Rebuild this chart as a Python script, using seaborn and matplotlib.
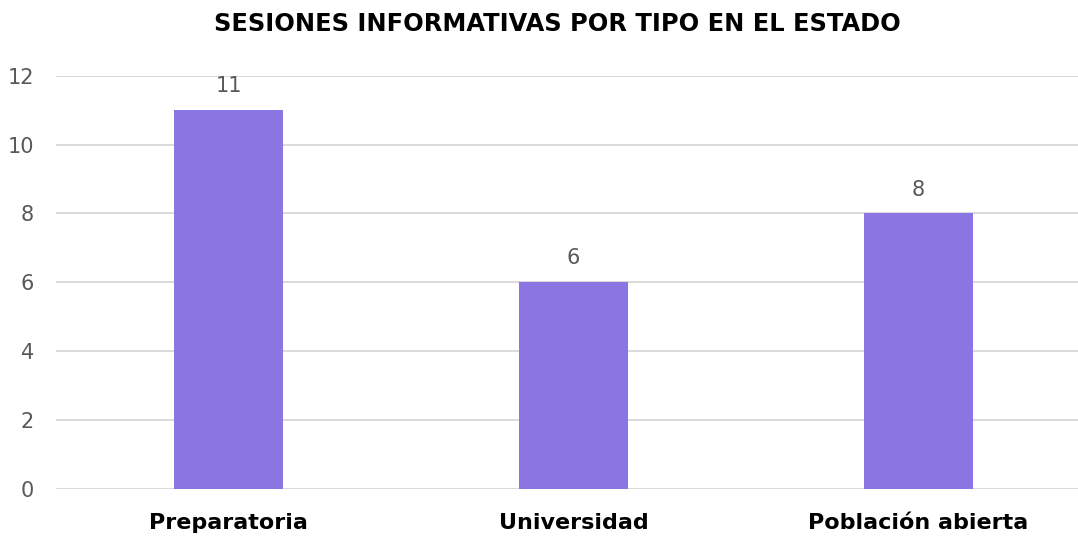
import matplotlib
matplotlib.use("Agg")
import matplotlib.pyplot as plt
import seaborn as sns
import pandas as pd

categories = ["Preparatoria", "Universidad", "Población abierta"]
values = [11, 6, 8]
y_ticks = [0, 2, 4, 6, 8, 10, 12]
title = "SESIONES INFORMATIVAS POR TIPO EN EL ESTADO"

sns.set_theme(style="white")
plt.rcParams['font.family'] = ['DejaVu Sans']

df = pd.DataFrame({"Tipo": categories, "Sesiones": values})

W, H = 1078, 539
fig = plt.figure(figsize=(W / 100, H / 100), dpi=100)
ax = fig.add_axes([56 / W, (H - 489) / H, 1035 / W, (489 - 75.7) / H])

bar_color = "#8B75E2"
sns.barplot(data=df, x="Tipo", y="Sesiones", color=bar_color, width=0.315,
            saturation=1, linewidth=0, edgecolor="none", ax=ax, zorder=3)

ax.set_xlim(-0.5, 2.5)
ax.set_ylim(0, 12)
ax.set_yticks(y_ticks)
ax.set_yticklabels([str(t) for t in y_ticks], fontsize=15, color="#595959")
ax.tick_params(axis="y", length=0, pad=16)
ax.tick_params(axis="x", length=0, pad=17)
for lbl in ax.get_xticklabels():
    lbl.set_fontsize(16)
    lbl.set_fontweight("bold")
    lbl.set_color("black")
ax.set_xlabel("")
ax.set_ylabel("")
ax.yaxis.grid(True, color="#D9D9D9", linewidth=1.4, zorder=0)
ax.xaxis.grid(False)
for s in ax.spines.values():
    s.set_visible(False)

for i, v in enumerate(values):
    ax.annotate(str(v), (i, v), xytext=(0, 10), textcoords="offset points",
                ha="center", va="bottom", fontsize=15, color="#595959")

fig.text(557 / W, 1 - 24 / H, title, ha="center", va="center",
         fontsize=17.4, fontweight="bold", color="black")

fig.savefig("out.png", dpi=100)
